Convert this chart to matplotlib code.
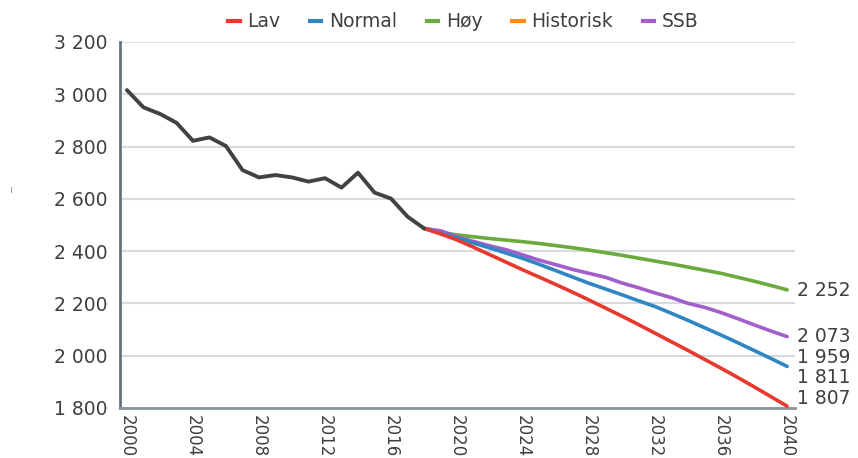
import matplotlib
matplotlib.use("Agg")
import matplotlib.pyplot as plt
from matplotlib.lines import Line2D

plt.rcParams['font.family'] = ['DejaVu Sans']

# historical series 2000-2018
hist_years = list(range(2000, 2019))
hist_vals = [3016, 2950, 2925, 2891, 2822, 2835, 2802, 2710, 2682, 2691,
             2682, 2666, 2679, 2643, 2700, 2624, 2601, 2532, 2487]

# projections 2018-2040
proj_years = list(range(2018, 2041))
lav = [2487, 2466, 2443, 2415, 2386, 2357, 2328, 2300, 2272, 2243, 2213, 2182,
       2151, 2119, 2086, 2053, 2020, 1986, 1952, 1917, 1881, 1844, 1807]
normal = [2487, 2468, 2450, 2431, 2412, 2392, 2372, 2349, 2325, 2301, 2277, 2255,
          2233, 2210, 2188, 2162, 2135, 2107, 2079, 2050, 2020, 1990, 1959]
hoy = [2487, 2472, 2462, 2455, 2448, 2442, 2436, 2429, 2421, 2413, 2404, 2394,
       2384, 2373, 2362, 2351, 2339, 2327, 2315, 2300, 2285, 2269, 2252]
ssb = [2487, 2478, 2455, 2437, 2420, 2405, 2385, 2365, 2348, 2330, 2315, 2300,
       2278, 2260, 2240, 2222, 2200, 2185, 2165, 2142, 2118, 2095, 2073]

end_labels = ["2 252", "2 073", "1 959", "1 811", "1 807"]
end_label_pos = [2249, 2073, 1995, 1918, 1838]

legend_names = ["Lav", "Normal", "Høy", "Historisk", "SSB"]
c_lav, c_norm, c_hoy, c_hist, c_ssb = "#e8392f", "#2f86c3", "#6aab3c", "#ff8a1c", "#a25fcb"
c_line = "#424242"
txt = "#3f3f3f"

fig = plt.figure(figsize=(8.58, 4.58), dpi=100)
ax = fig.add_axes([0.1399, 0.1092, 0.7867, 0.7991])

lw = 2.6
ax.plot(proj_years, hoy, color=c_hoy, lw=lw, solid_capstyle='round', zorder=3)
ax.plot(proj_years, ssb, color=c_ssb, lw=lw, solid_capstyle='round', zorder=3)
ax.plot(proj_years, normal, color=c_norm, lw=lw, solid_capstyle='round', zorder=4)
ax.plot(proj_years, lav, color=c_lav, lw=lw, solid_capstyle='round', zorder=5)
ax.plot(hist_years, hist_vals, color=c_line, lw=2.8, solid_capstyle='round', zorder=6)

ax.set_xlim(1999.58, 2040.48)
ax.set_ylim(1800, 3200)
ax.set_yticks(range(1800, 3201, 200))
ax.set_yticklabels([f"{v // 1000} {v % 1000:03d}" for v in range(1800, 3201, 200)])
ax.set_xticks(range(2000, 2041, 4))
ax.set_xticklabels([str(y) for y in range(2000, 2041, 4)], rotation=-90)

ax.grid(axis='y', color='#d5dbe1', lw=1.5)
ax.set_axisbelow(True)
for s in ['top', 'right']:
    ax.spines[s].set_visible(False)
ax.spines['left'].set_color('#66727a')
ax.spines['left'].set_linewidth(2)
ax.spines['bottom'].set_color('#8a949b')
ax.spines['bottom'].set_linewidth(2)
ax.tick_params(axis='both', length=0, labelsize=13.5, colors=txt)
ax.tick_params(axis='y', pad=9)
ax.tick_params(axis='x', pad=5, labelsize=12)

for lab, yv in zip(end_labels, end_label_pos):
    ax.text(2040.6, yv, lab, fontsize=13.5, color=txt, va='center', ha='left',
            clip_on=False)

handles = [Line2D([0], [0], color=c, lw=3) for c in [c_lav, c_norm, c_hoy, c_hist, c_ssb]]
fig.legend(handles, legend_names, loc='center', bbox_to_anchor=(0.54, 0.952), ncol=5,
           frameon=False, handlelength=0.6, handletextpad=0.4, columnspacing=1.6,
           fontsize=13.5, labelcolor=txt)

fig.text(0.014, 0.585, "ı", fontsize=8, color='#999999', ha='center', va='center')

fig.savefig("out.png", dpi=100)
